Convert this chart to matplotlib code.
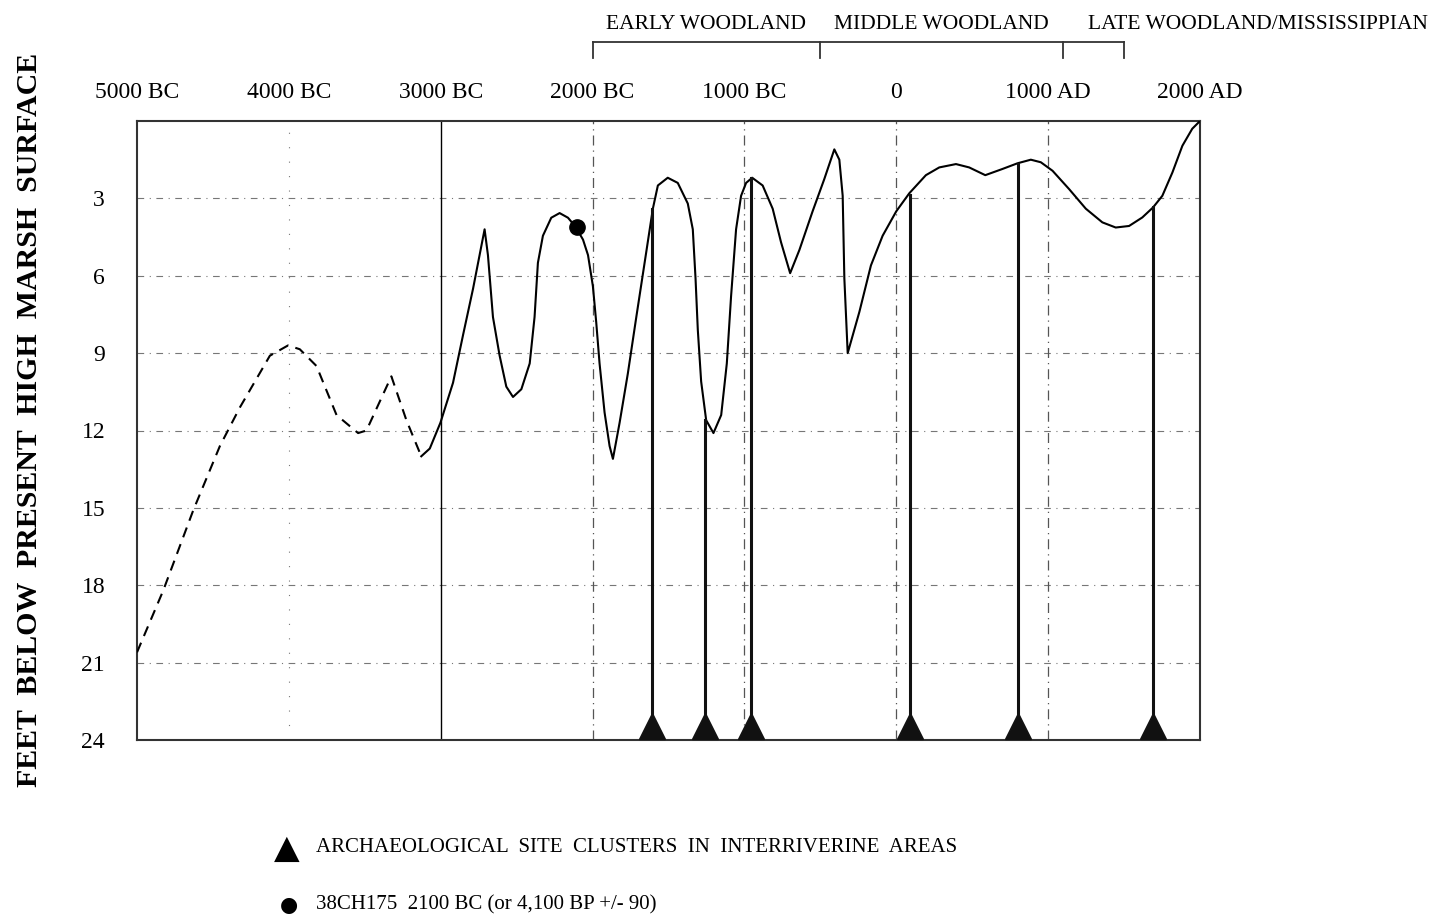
import numpy as np
import matplotlib
matplotlib.use('Agg')
import matplotlib.pyplot as plt

plt.rcParams['font.family'] = ['Liberation Serif', 'DejaVu Serif']

# 年代（負 = BC）と深さ（ft）
year_ticks = [-5000, -4000, -3000, -2000, -1000, 0, 1000, 2000]
year_labels = ['5000 BC', '4000 BC', '3000 BC', '2000 BC', '1000 BC', '0', '1000 AD', '2000 AD']
depth_ticks = [3, 6, 9, 12, 15, 18, 21, 24]

# 推定部分（破線）
dash_year = [-5000, -4827, -4630, -4454, -4322, -4125, -4005, -3928, -3818, -3686,
             -3544, -3489, -3325, -3226, -3128]
dash_depth = [20.6, 18.2, 15.1, 12.6, 11.1, 9.1, 8.7, 8.85, 9.5, 11.4,
              12.1, 12.0, 9.9, 11.6, 13.0]

# 実線部分
solid_year = [-3128, -3072, -3002, -2919, -2853, -2787, -2711, -2689, -2656, -2612,
              -2568, -2524, -2469, -2414, -2382, -2360, -2327, -2272, -2217, -2162,
              -2112, -2063, -2030, -1998, -1976, -1954, -1921, -1888, -1866, -1822,
              -1768, -1712, -1647, -1603, -1570, -1505, -1439, -1373, -1340, -1322,
              -1307, -1285, -1252, -1204, -1153, -1116, -1088, -1055, -1022, -989,
              -949, -880, -814, -759, -699, -638, -551, -474, -408, -375,
              -353, -342, -320, -243, -167, -90, 0, 86, 195, 283,
              393, 480, 586, 699, 798, 886, 952, 1029, 1138, 1248,
              1357, 1445, 1533, 1620, 1691, 1752, 1818, 1884, 1949, 2000]
solid_depth = [13.0, 12.7, 11.7, 10.15, 8.3, 6.5, 4.2, 5.2, 7.6, 9.1,
               10.3, 10.7, 10.4, 9.4, 7.6, 5.5, 4.45, 3.75, 3.57, 3.75,
               4.1, 4.6, 5.2, 6.4, 7.8, 9.4, 11.3, 12.6, 13.1, 11.7,
               9.8, 7.6, 5.1, 3.4, 2.5, 2.2, 2.4, 3.2, 4.2, 6.1,
               8.1, 10.1, 11.6, 12.1, 11.4, 9.4, 6.8, 4.2, 2.9, 2.4,
               2.2, 2.5, 3.4, 4.7, 5.9, 5.0, 3.5, 2.25, 1.1, 1.5,
               2.9, 6.1, 9.0, 7.4, 5.6, 4.45, 3.5, 2.8, 2.1, 1.8,
               1.67, 1.8, 2.1, 1.86, 1.64, 1.5, 1.6, 1.93, 2.64, 3.4,
               3.93, 4.13, 4.07, 3.74, 3.35, 2.9, 2.0, 0.96, 0.3, 0.0]

# 遺跡クラスター
site_year = [-1610, -1260, -955, 90, 800, 1690]
site_top = [3.4, 11.6, 2.2, 2.85, 1.65, 3.35]

# 38CH175
dot_year = -2100
dot_depth = 4.1

# 時代区分
period_names = ['EARLY WOODLAND', 'MIDDLE WOODLAND', 'LATE WOODLAND/MISSISSIPPIAN']
period_bounds = [-2000, -500, 1100, 1500]

fig = plt.figure(figsize=(14.37, 9.18), dpi=100)
ax = fig.add_axes([137/1437, 178/918, 1063/1437, 619/918])

ax.set_xlim(-5000, 2000)
ax.set_ylim(24, 0)

# グリッド
for d in depth_ticks[:-1]:
    ax.axhline(d, color='#777777', lw=0.8, ls=(0, (6, 5, 1, 5)), zorder=1)
for yr in [-2000, -1000, 0, 1000]:
    ax.axvline(yr, color='#555555', lw=0.9, ls=(0, (8, 4, 1, 4)), zorder=1)
ax.axvline(-4000, color='#777777', lw=0.8, ls=(0, (1, 12)), zorder=1)
ax.axvline(-3000, color='black', lw=1.0, zorder=1)

# 海面曲線
ax.plot(dash_year, dash_depth, color='black', lw=1.5, dashes=(5, 3.5), zorder=3)
ax.plot(solid_year, solid_depth, color='black', lw=1.5, zorder=3,
        solid_joinstyle='round')

# 遺跡の矢印
for yr, top in zip(site_year, site_top):
    ax.plot([yr, yr], [top, 24], color='#111111', lw=2.2, zorder=4)
ax.plot(site_year, [23.45] * len(site_year), ls='none', marker='^',
        ms=19, color='#111111', zorder=5)

ax.plot([dot_year], [dot_depth], 'o', color='black', ms=11, zorder=6)

# 軸
ax.xaxis.tick_top()
ax.set_xticks(year_ticks)
ax.set_xticklabels(year_labels, fontsize=17)
ax.set_yticks(depth_ticks)
ax.set_yticklabels([str(d) for d in depth_ticks], fontsize=17)
ax.tick_params(axis='x', length=0, pad=13)
ax.tick_params(axis='y', length=0, pad=23)
for s in ax.spines.values():
    s.set_color('#333333')
    s.set_linewidth(1.5)

# 時代区分のブラケット
ax.plot([period_bounds[0], period_bounds[-1]], [-3.05, -3.05], color='#333333',
        lw=1.3, clip_on=False)
for b in period_bounds:
    ax.plot([b, b], [-3.05, -2.45], color='#333333', lw=1.3, clip_on=False)
name_x = [(period_bounds[0] + period_bounds[1]) / 2,
          (period_bounds[1] + period_bounds[2]) / 2,
          2380]
for nx, name in zip(name_x, period_names):
    ax.text(nx, -3.75, name, ha='center', va='center', fontsize=15.5,
            clip_on=False)

fig.text(30/1437, 1 - 420/918, 'FEET  BELOW  PRESENT  HIGH  MARSH  SURFACE',
         rotation=90, ha='center', va='center', fontsize=21.5, fontweight='bold')

# 凡例
fig.text(287/1437, 1 - 848/918, '\u25b2', ha='center', va='center', fontsize=24,
         family='DejaVu Sans')
fig.text(316/1437, 1 - 848/918, 'ARCHAEOLOGICAL  SITE  CLUSTERS  IN  INTERRIVERINE  AREAS',
         ha='left', va='center', fontsize=15)
fig.text(289/1437, 1 - 905/918, '\u25cf', ha='center', va='center', fontsize=15,
         family='DejaVu Sans')
fig.text(316/1437, 1 - 905/918, '38CH175  2100 BC (or 4,100 BP +/- 90)',
         ha='left', va='center', fontsize=15)

fig.savefig('out.png', dpi=100)
